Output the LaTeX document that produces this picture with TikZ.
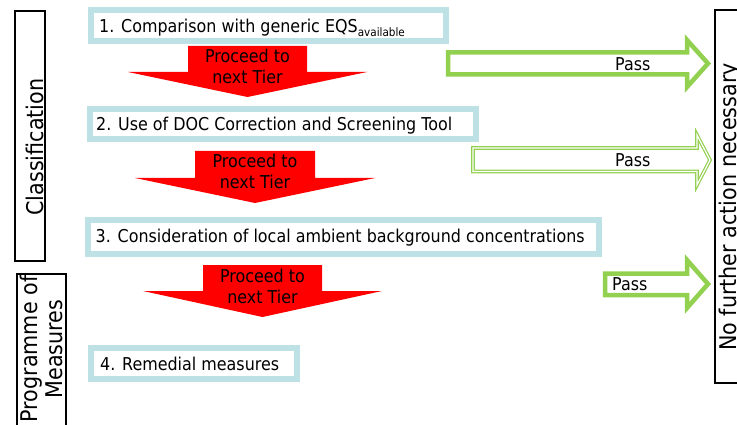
\documentclass[tikz,border=0pt]{standalone}
\usepackage{fontspec}
\setmainfont{DejaVu Sans}[FakeStretch=0.9]
\definecolor{boxblue}{RGB}{189,225,228}
\definecolor{passgreen}{RGB}{146,208,80}
\tikzset{
  tierbox/.style={draw=boxblue, line width=5.5pt, fill=white},
  redarrow/.style={fill=red, draw=none},
  passarrow/.style={draw=passgreen, line width=4.5pt, fill=white, line join=miter},
  passarrowthin/.style={draw=passgreen, line width=1.2pt, double=white, double distance=1.2pt, line join=miter},
  sidebox/.style={draw=black, line width=2.5pt},
  maintext/.style={font=\fontsize{17.7}{21}\selectfont, inner sep=0pt},
  sidetext/.style={font=\fontsize{23}{27}\selectfont, inner sep=0pt, rotate=90, anchor=base},
}
\begin{document}
\begin{tikzpicture}[x=1pt, y=-1pt]
\useasboundingbox (0,0) rectangle (737,425);
\clip (0,0) rectangle (737,425);

% side boxes
\draw[sidebox] (15,11) rectangle (45,261);
\node[sidetext] (cls) at (43,147) {Classification};
\draw[sidebox] (17,274) rectangle (66,432);
\node[sidetext] (prog1) at (37,349) {Programme of};
\node[sidetext] (prog2) at (62,349) {Measures};
\draw[sidebox] (745,10) -- (715,10) -- (715,383) -- (745,383);
\node[sidetext] (nofurther) at (736,207) {No further action necessary};

% tier boxes
\draw[tierbox] (91,10) rectangle (446,41);
\node[maintext, anchor=base west] (t1) at (99,33) {1. Comparison with generic EQS\raisebox{-4pt}{\fontsize{11.6}{12}\selectfont available}};
\draw[tierbox] (90,109) rectangle (476,139);
\node[maintext, anchor=base west] (t2) at (96,130.5) {2. Use of DOC Correction and Screening Tool};
\draw[tierbox] (88,220) rectangle (599,254);
\node[maintext, anchor=base west] (t3) at (95.5,243) {3. Consideration of local ambient background concentrations};
\draw[tierbox] (91,348) rectangle (297,379);
\node[maintext, anchor=base west] (t4) at (100,370) {4. Remedial measures};

% red proceed arrows
\path[redarrow] (188,46) -- (307,46) -- (307,72) -- (367,72) -- (247.5,97) -- (128,72) -- (188,72) -- cycle;
\node[maintext, anchor=base] (p1a) at (247.5,63) {Proceed to};
\node[maintext, anchor=base] (p1b) at (247.5,84) {next Tier};
\path[redarrow] (195,151) -- (315,151) -- (315,178) -- (375,178) -- (255,203) -- (135,178) -- (195,178) -- cycle;
\node[maintext, anchor=base] (p2a) at (255,168) {Proceed to};
\node[maintext, anchor=base] (p2b) at (255,189) {next Tier};
\path[redarrow] (203,265) -- (322,265) -- (322,291) -- (382,291) -- (262.5,317) -- (143,291) -- (203,291) -- cycle;
\node[maintext, anchor=base] (p3a) at (262.5,282) {Proceed to};
\node[maintext, anchor=base] (p3b) at (262.5,303) {next Tier};

% green pass arrows
\draw[passarrow] (448,52.5) -- (687,52.5) -- (687,40) -- (708,63.5) -- (687,87) -- (687,74.5) -- (448,74.5) -- cycle;
\node[maintext, anchor=base west] (pass1) at (615,71) {Pass};
\draw[passarrowthin] (473,148) -- (697,148) -- (697,135) -- (710,160) -- (697,185) -- (697,171.5) -- (473,171.5) -- cycle;
\node[maintext, anchor=base west] (pass2) at (615,166.5) {Pass};
\draw[passarrow] (605,273.5) -- (687,273.5) -- (687,260) -- (708,284) -- (687,308) -- (687,295) -- (605,295) -- cycle;
\node[maintext, anchor=base west] (pass3) at (612,290) {Pass};
\end{tikzpicture}
\end{document}
